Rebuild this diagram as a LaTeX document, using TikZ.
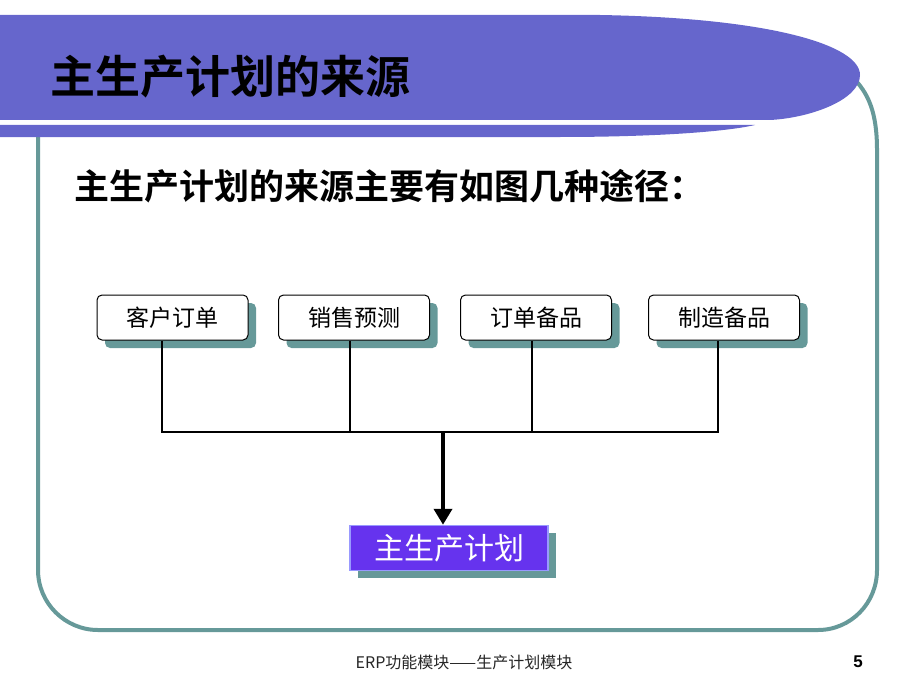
\documentclass[tikz,border=0pt]{standalone}
\usepackage{fontspec}
\newfontfamily\cjk{Noto Sans CJK SC}
\newfontfamily\cjkb{Noto Sans CJK SC Bold}
\setmainfont{Liberation Sans}
\usetikzlibrary{arrows.meta}
\definecolor{banner}{HTML}{6666CC}
\definecolor{frameteal}{HTML}{669999}
\definecolor{mpsfill}{HTML}{6633EE}
\definecolor{mpsedge}{HTML}{9999FF}
\tikzset{
  srcbox/.style={draw=black, line width=1pt, fill=white, rounded corners=5pt,
    minimum width=151pt, minimum height=45pt, inner sep=0pt,
    font=\cjk\fontsize{23}{23}\selectfont},
  shadowbox/.style={fill=frameteal, minimum width=151pt, minimum height=45pt, inner sep=0pt, rounded corners=5pt},
  mpsbox/.style={draw=mpsedge, line width=1.5pt, fill=mpsfill, text=white,
    minimum width=198pt, minimum height=45pt, inner sep=0pt,
    font=\cjk\fontsize{30}{30}\selectfont},
  link/.style={line width=2pt, black},
}
\begin{document}
\begin{tikzpicture}[x=1pt,y=-1pt]
\useasboundingbox (0,0) rectangle (920,690);
% frame
\draw[frameteal, line width=4pt]
  (38,137) -- (38,570) .. controls (38,603) and (65,630) .. (98,630) -- (818,630)
  .. controls (851,630) and (877,603) .. (877,570)
  -- (877,150) .. controls (877,112) and (868,95) .. (857,82);
% banner
\fill[banner] (0,15) -- (600,15) .. controls (770,18) and (860,45) .. (860,75)
  .. controls (860,100) and (810,118) .. (770,120) -- (0,120) -- cycle;
\fill[banner] (0,125) -- (755,125) .. controls (720,133) and (640,137) .. (560,137) -- (0,137) -- cycle;
\node[anchor=west, inner sep=0pt, font=\cjkb\fontsize{45}{45}\selectfont] (title) at (50,77) {主生产计划的来源};
\node[anchor=west, inner sep=0pt, font=\cjkb\fontsize{35}{35}\selectfont] (sub) at (74,186) {主生产计划的来源主要有如图几种途径：};
% source boxes
\foreach \x in {172.5, 354, 536, 724} {
  \node[shadowbox] at (\x+8,325.5) {};
}
\node[srcbox] (a) at (172.5,317.5) {客户订单};
\node[srcbox] (b) at (354,317.5) {销售预测};
\node[srcbox] (c) at (536,317.5) {订单备品};
\node[srcbox] (d) at (724,317.5) {制造备品};
% target
\node[fill=frameteal, minimum width=198pt, minimum height=45pt] at (457,555) {};
\node[mpsbox] (m) at (449,548) {主生产计划};
% connectors
\coordinate (ja) at (162,432);
\coordinate (jb) at (350,432);
\coordinate (jc) at (532,432);
\coordinate (jd) at (718,432);
\coordinate (jm) at (443,432);
\draw[link] (a.south -| ja) -- (ja);
\draw[link] (b.south -| jb) -- (jb);
\draw[link] (c.south -| jc) -- (jc);
\draw[link] (d.south -| jd) -- (jd);
\draw[link] ([xshift=-1pt]ja) -- ([xshift=1pt]jd);
\draw[line width=4pt, -{Triangle[length=16pt,width=18pt]}] (jm) -- (jm |- m.north);
% footer
\node[inner sep=0pt, font=\cjk\fontsize{16}{16}\selectfont, text=black!85] (foot) at (464,662) {ERP功能模块——生产计划模块};
\node[inner sep=0pt, font=\bfseries\fontsize{17}{17}\selectfont] (pg) at (858,662) {5};
\end{tikzpicture}
\end{document}
